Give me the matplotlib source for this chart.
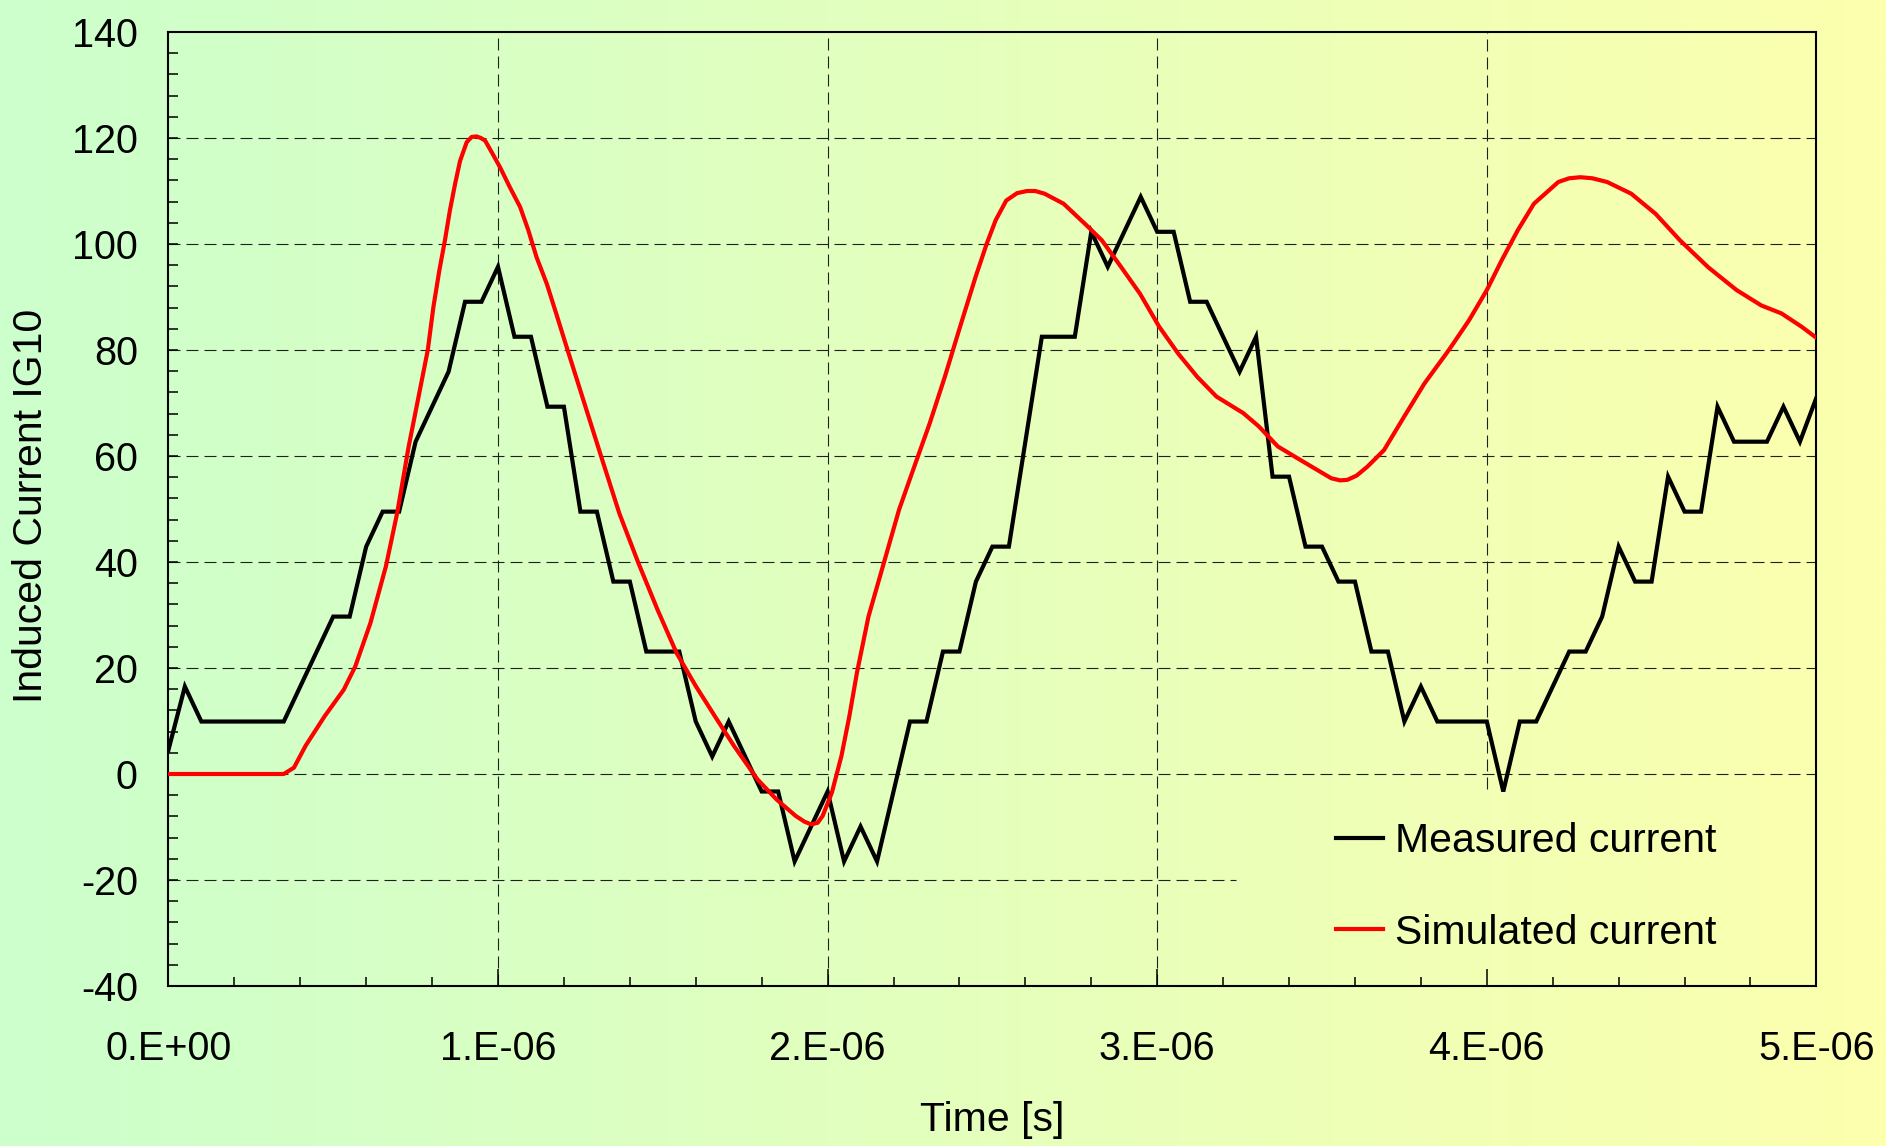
import numpy as np
import matplotlib
matplotlib.use("Agg")
import matplotlib.pyplot as plt
from matplotlib.ticker import FixedLocator, MultipleLocator

plt.rcParams['font.family'] = ['Liberation Sans', 'DejaVu Sans']
plt.rcParams['axes.unicode_minus'] = False

# ---------------- data ----------------
# Measured current: sampled every 0.05 us from 0 to 5 us
measured_t_us = np.round(np.arange(101) * 0.05, 2)
measured_current = [
    4.5, 16.5, 9.9, 9.9, 9.9, 9.9, 9.9, 9.9, 16.5, 23.1,
    29.7, 29.7, 42.9, 49.5, 49.5, 62.7, 69.3, 75.9, 89.1, 89.1,
    95.7, 82.5, 82.5, 69.3, 69.3, 49.5, 49.5, 36.3, 36.3, 23.1,
    23.1, 23.1, 9.9, 3.3, 9.9, 3.3, -3.3, -3.3, -16.5, -9.9,
    -3.3, -16.5, -9.9, -16.5, -3.3, 9.9, 9.9, 23.1, 23.1, 36.3,
    42.9, 42.9, 62.7, 82.5, 82.5, 82.5, 102.3, 95.7, 102.3, 108.9,
    102.3, 102.3, 89.1, 89.1, 82.5, 75.9, 82.5, 56.1, 56.1, 42.9,
    42.9, 36.3, 36.3, 23.1, 23.1, 9.9, 16.5, 9.9, 9.9, 9.9,
    9.9, -3.3, 9.9, 9.9, 16.5, 23.1, 23.1, 29.7, 42.9, 36.3,
    36.3, 56.1, 49.5, 49.5, 69.3, 62.7, 62.7, 62.7, 69.3, 62.7,
    71.0,
]

# Simulated current (time in us, value)
simulated_t_us = [
    0.0, 0.35, 0.381, 0.416, 0.474, 0.532, 0.567, 0.613, 0.66, 0.694,
    0.729, 0.76, 0.787, 0.804, 0.822, 0.839, 0.854, 0.87, 0.885, 0.905,
    0.92, 0.935, 0.948, 0.961, 0.981, 1.006, 1.036, 1.067, 1.092, 1.117,
    1.148, 1.178, 1.205, 1.24, 1.31, 1.368, 1.426, 1.484, 1.542, 1.6,
    1.658, 1.716, 1.787, 1.845, 1.903, 1.93, 1.95, 1.97, 1.985, 2.013,
    2.042, 2.066, 2.089, 2.124, 2.159, 2.182, 2.217, 2.263, 2.31, 2.356,
    2.402, 2.449, 2.483, 2.51, 2.542, 2.575, 2.605, 2.63, 2.658, 2.716,
    2.786, 2.832, 2.89, 2.948, 3.006, 3.064, 3.122, 3.18, 3.261, 3.308,
    3.366, 3.433, 3.528, 3.555, 3.577, 3.605, 3.638, 3.688, 3.749, 3.811,
    3.885, 3.946, 4.0, 4.045, 4.094, 4.143, 4.217, 4.25, 4.284, 4.32,
    4.365, 4.438, 4.512, 4.586, 4.672, 4.758, 4.833, 4.894, 4.955, 5.0,
]
simulated_current = [
    0.0, 0.0, 1.2, 5.3, 10.9, 15.9, 20.3, 28.5, 39.2, 49.2,
    61.8, 71.5, 80.0, 88.1, 95.0, 100.7, 106.3, 111.4, 115.7, 119.2,
    120.2, 120.3, 120.0, 119.5, 117.3, 114.5, 110.7, 107.0, 102.6, 97.5,
    92.5, 86.6, 81.2, 74.3, 60.5, 49.2, 39.8, 31.0, 22.8, 16.6,
    10.9, 5.3, -1.0, -4.8, -7.9, -9.0, -9.5, -9.2, -7.9, -3.5,
    3.4, 10.9, 19.1, 29.7, 37.3, 42.3, 49.9, 58.0, 66.2, 75.0,
    84.4, 93.8, 100.1, 104.5, 108.2, 109.6, 110.0, 110.0, 109.5, 107.6,
    103.5, 100.7, 95.7, 90.6, 84.4, 79.3, 74.9, 71.2, 68.1, 65.6,
    61.8, 59.3, 55.8, 55.4, 55.5, 56.3, 58.0, 61.1, 67.4, 73.7,
    80.0, 85.6, 91.3, 96.9, 102.6, 107.6, 111.7, 112.4, 112.6, 112.4,
    111.7, 109.5, 105.7, 100.7, 95.6, 91.3, 88.4, 86.9, 84.4, 82.3,
]

x_tick_values = [0, 1e-6, 2e-6, 3e-6, 4e-6, 5e-6]
x_tick_labels = ['0.E+00', '1.E-06', '2.E-06', '3.E-06', '4.E-06', '5.E-06']
y_tick_values = [-40, -20, 0, 20, 40, 60, 80, 100, 120, 140]

series_labels = ['Measured current', 'Simulated current']

# ---------------- figure ----------------
W, H = 1886, 1146
fig = plt.figure(figsize=(W / 100, H / 100), dpi=100)

# gradient background (light green -> light yellow)
bg = fig.add_axes([0, 0, 1, 1], zorder=-10)
c_left = np.array([204, 255, 204]) / 255.0
c_right = np.array([252, 255, 174]) / 255.0
n = 256
frac = np.linspace(0, 1, n)[None, :, None]
grad = c_left[None, None, :] * (1 - frac) + c_right[None, None, :] * frac
bg.imshow(grad, aspect='auto', extent=[0, 1, 0, 1], interpolation='bilinear')
bg.set_axis_off()

ax = fig.add_axes([168.4 / W, 1 - 986 / H, 1648 / W, 954 / H])
ax.set_facecolor('none')

xmin, xmax = 0, 5e-6
ymin, ymax = -40, 140
ax.set_xlim(xmin, xmax)
ax.set_ylim(ymin, ymax)

# gridlines (partly hidden behind the legend area)
gkw = dict(color='#202020', lw=0.8, linestyle=(0, (10.8, 5.4)), zorder=1)
legend_left = 3.238e-6
legend_top = -2.9
for yv in y_tick_values:
    if yv in (ymin, ymax):
        continue
    if yv < legend_top:
        ax.plot([xmin, legend_left], [yv, yv], **gkw)
    else:
        ax.plot([xmin, xmax], [yv, yv], **gkw)
for xv in x_tick_values:
    if xv in (xmin, xmax):
        continue
    if xv > legend_left:
        ax.plot([xv, xv], [legend_top, ymax], **gkw)
    else:
        ax.plot([xv, xv], [ymin, ymax], **gkw)

t_meas = np.array(measured_t_us) * 1e-6
t_sim = np.array(simulated_t_us) * 1e-6
ax.plot(t_meas, measured_current, color='black', lw=3.0, label=series_labels[0],
        zorder=3, solid_joinstyle='miter')
ax.plot(t_sim, simulated_current, color='#ff0000', lw=3.0, label=series_labels[1],
        zorder=4, solid_joinstyle='round')

# axes styling
for s in ax.spines.values():
    s.set_linewidth(1.5)
    s.set_color('black')

ax.xaxis.set_major_locator(FixedLocator(x_tick_values))
ax.set_xticklabels(x_tick_labels)
ax.xaxis.set_minor_locator(MultipleLocator(0.2e-6))
ax.yaxis.set_major_locator(FixedLocator(y_tick_values))
ax.yaxis.set_minor_locator(MultipleLocator(4))

ax.tick_params(axis='x', which='major', direction='in', length=12, width=1.1,
               pad=32, labelsize=28.5)
ax.tick_params(axis='x', which='minor', direction='in', length=6.5, width=1.1)
ax.tick_params(axis='y', which='major', direction='in', length=7, width=1.1,
               pad=22, labelsize=28.5)
ax.tick_params(axis='y', which='minor', direction='in', length=7, width=1.1)

ax.set_xlabel('Time [s]', fontsize=29.5)
ax.xaxis.set_label_coords(0.5, -0.1206)
ax.set_ylabel('Induced Current IG10', fontsize=29.5, va='center')
ax.yaxis.set_label_coords(-0.0834, 0.503)

leg = ax.legend(loc='upper left', bbox_to_anchor=(0.7085, 0.1715), frameon=False,
                fontsize=29.5, handlelength=1.15, handletextpad=0.3,
                labelspacing=1.3, borderpad=0, borderaxespad=0)

fig.savefig('out.png', dpi=100)
